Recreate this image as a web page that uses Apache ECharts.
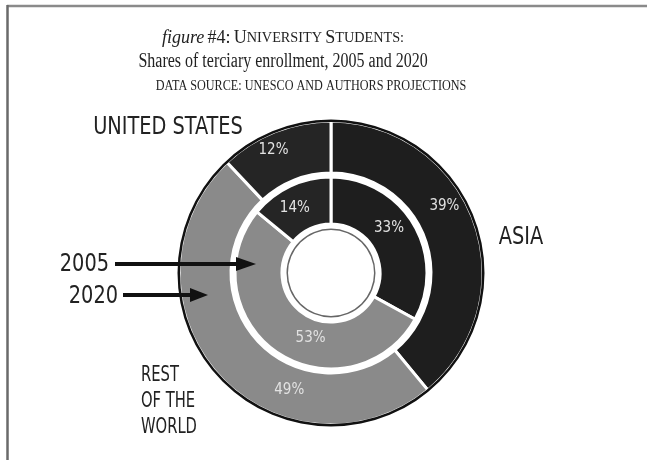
<!DOCTYPE html>
<html><head><meta charset="utf-8">
<script src="https://cdn.jsdelivr.net/npm/echarts@6/dist/echarts.min.js"></script>
<style>html,body{margin:0;padding:0;background:#fff}#c{width:647px;height:460px}</style>
</head><body><div id="c"></div>
<script>
// ---- data ----
const regions = ['Asia', 'Rest of the World', 'United States'];
const share2005 = [33, 53, 14];   // inner ring
const share2020 = [39, 49, 12];   // outer ring
const years = ['2005', '2020'];

// ---- styles ----
const regionColors = ['#1e1e1e', '#8a8a8a', '#252525'];
const innerLabelOffsets = [[-7, -6], [22, 3], [-4, 3]];
const outerLabelOffsets = [[-8, -23], [55, 32], [-10, -3]];
const CX = 331, CY = 273;
const condensed = "'Liberation Sans Narrow','DejaVu Sans Condensed',sans-serif";
const serif = "'Liberation Serif','DejaVu Serif',serif";

function ringData(values, offsets) {
  return values.map((v, i) => ({
    name: regions[i], value: v,
    itemStyle: { color: regionColors[i] },
    label: { offset: offsets[i] }
  }));
}
const pieLabel = {
  show: true, position: 'inside', formatter: '{c}%',
  color: '#e2e2e2', fontSize: 15, fontFamily: condensed
};

function txt(x, y, text, size, align, sx) {
  return { type: 'text', x: x, y: y, scaleX: sx, z: 20, style: {
    text: text, textAlign: align, textVerticalAlign: 'middle', fill: '#222', font: size + 'px ' + condensed } };
}

const chart = echarts.init(document.getElementById('c'), null, { renderer: 'canvas' });
chart.setOption({
  animation: false,
  backgroundColor: '#ffffff',
  series: [
    {
      name: years[1], type: 'pie', center: [CX, CY], radius: [100, 152],
      startAngle: 90, clockwise: true, silent: true, z: 2,
      itemStyle: { borderColor: '#ffffff', borderWidth: 3 },
      label: pieLabel, labelLine: { show: false },
      data: ringData(share2020, outerLabelOffsets)
    },
    {
      name: years[0], type: 'pie', center: [CX, CY], radius: [49, 96],
      startAngle: 90, clockwise: true, silent: true, z: 2,
      itemStyle: { borderColor: '#ffffff', borderWidth: 3 },
      label: pieLabel, labelLine: { show: false },
      data: ringData(share2005, innerLabelOffsets)
    },
    {
      type: 'pie', center: [CX, CY], radius: [151, 153.5], silent: true, z: 3,
      label: { show: false }, labelLine: { show: false },
      itemStyle: { color: '#111111', borderWidth: 0 },
      data: [{ value: 1, name: '' }]
    },
    {
      type: 'pie', center: [CX, CY], radius: [43, 44.5], silent: true, z: 3,
      label: { show: false }, labelLine: { show: false },
      itemStyle: { color: '#666666', borderWidth: 0 },
      data: [{ value: 1, name: '' }]
    }
  ],
  graphic: [
    // frame
    { type: 'line', shape: { x1: 7, y1: 6, x2: 647, y2: 6 }, style: { stroke: '#8a8a8a', lineWidth: 2.5 } },
    { type: 'line', shape: { x1: 7.5, y1: 5, x2: 7.5, y2: 460 }, style: { stroke: '#6a6a6a', lineWidth: 2.5 } },
    // titles
    { type: 'text', x: 283, y: 38, scaleX: 0.95, style: {
        text: '{i|figure} {n|#4:} {c|U}{s|NIVERSITY} {c|S}{s|TUDENTS:}',
        textAlign: 'center', textVerticalAlign: 'middle', fill: '#222',
        rich: {
          i: { fontFamily: serif, fontStyle: 'italic', fontSize: 19, fill: '#222' },
          n: { fontFamily: serif, fontSize: 19, fill: '#222' },
          c: { fontFamily: serif, fontSize: 19, fill: '#222' },
          s: { fontFamily: serif, fontSize: 15, fill: '#222' }
        } } },
    { type: 'text', x: 283, y: 62, scaleX: 0.8, style: {
        text: 'Shares of terciary enrollment, 2005 and 2020',
        textAlign: 'center', textVerticalAlign: 'middle', fill: '#222',
        font: '20px ' + serif } },
    { type: 'text', x: 311, y: 86, scaleX: 0.87, style: {
        text: 'DATA SOURCE: UNESCO AND AUTHORS PROJECTIONS',
        textAlign: 'center', textVerticalAlign: 'middle', fill: '#222',
        font: '14px ' + serif } },
    // region labels
    txt(168, 127, 'UNITED STATES', 25, 'center', 0.86),
    txt(521, 237, 'ASIA', 25, 'center', 0.86),
    txt(141, 376, 'REST', 21, 'left', 0.78),
    txt(141, 402, 'OF THE', 21, 'left', 0.78),
    txt(141, 428, 'WORLD', 21, 'left', 0.78),
    // year arrows
    txt(109, 264, years[0], 25, 'right', 0.86),
    txt(118, 296, years[1], 25, 'right', 0.86),
    { type: 'line', z: 10, shape: { x1: 115, y1: 264, x2: 240, y2: 264 }, style: { stroke: '#111', lineWidth: 4 } },
    { type: 'polygon', z: 10, shape: { points: [[256, 264], [236, 257], [236, 271]] }, style: { fill: '#111' } },
    { type: 'line', z: 10, shape: { x1: 123, y1: 295, x2: 194, y2: 295 }, style: { stroke: '#111', lineWidth: 4 } },
    { type: 'polygon', z: 10, shape: { points: [[208, 295], [190, 288], [190, 302]] }, style: { fill: '#111' } }
  ]
});
</script>
</body></html>
